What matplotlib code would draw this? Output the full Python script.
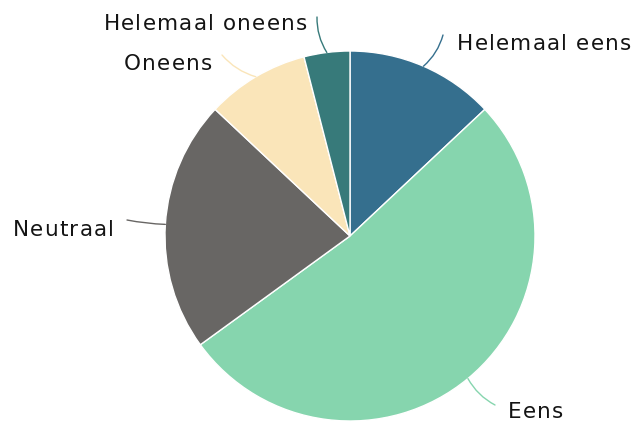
import numpy as np
import matplotlib
matplotlib.use("Agg")
import matplotlib.pyplot as plt
from matplotlib.font_manager import FontProperties

labels = ["Helemaal eens", "Eens", "Neutraal", "Oneens", "Helemaal oneens"]
values = [13, 52, 22, 9, 4]
colors = ["#356f8e", "#86d5ae", "#686664", "#fae5b9", "#377a7a"]

# label layout in pixels from the top-left: end of leader line, text anchor
line_end = [(443, 35), (495, 405), (127, 220), (222, 55), (317, 17)]
text_pos = [(457, 44), (508, 412), (114, 230), (212, 64), (307, 24)]

W, H = 635, 423
fig = plt.figure(figsize=(W / 100, H / 100), dpi=100)
ax = fig.add_axes([0, 0, 1, 1])

cx, cy, r = 350, H - 236, 185
wedges, _ = ax.pie(
    values,
    colors=colors,
    startangle=90,
    counterclock=False,
    radius=r,
    center=(cx, cy),
    wedgeprops=dict(edgecolor="white", linewidth=1),
    frame=True,
)
ax.set_xlim(0, W)
ax.set_ylim(0, H)
ax.axis("off")

fp = FontProperties(family="DejaVu Sans", size=15.5)
spacing = 1.2
fig.canvas.draw()
renderer = fig.canvas.get_renderer()


def char_w(c):
    w, _, _ = renderer.get_text_width_height_descent(c, fp, ismath=False)
    return w


def spaced_text(x, y, s, align):
    widths = [char_w(c) for c in s]
    total = sum(widths) + spacing * (len(s) - 1)
    start = x if align == "left" else x - total
    for c, w in zip(s, widths):
        ax.text(start, y, c, ha="left", va="center", fontproperties=fp, color="#141414")
        start += w + spacing


for w, lab, col, (ex, ey), (tx, ty) in zip(wedges, labels, colors, line_end, text_pos):
    mid = np.deg2rad((w.theta1 + w.theta2) / 2)
    x0, y0 = cx + r * np.cos(mid), cy + r * np.sin(mid)
    right = np.cos(mid) >= 0
    rad = -0.15 if right else 0.15
    if lab == "Neutraal":
        rad = 0.04
    ax.annotate(
        "",
        xy=(x0, y0),
        xytext=(ex, H - ey),
        arrowprops=dict(arrowstyle="-", color=col, lw=1,
                        connectionstyle=f"arc3,rad={rad}", shrinkA=0, shrinkB=0),
    )
    spaced_text(tx, H - ty, lab, "left" if right else "right")

fig.savefig("out.png", dpi=100)
